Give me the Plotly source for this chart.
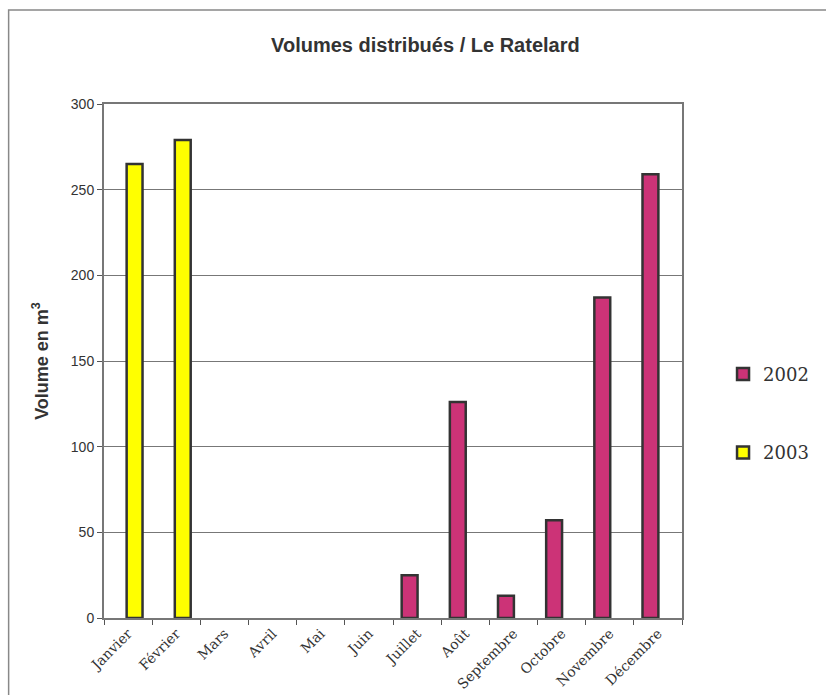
import plotly.graph_objects as go

months = ["Janvier", "Février", "Mars", "Avril", "Mai", "Juin", "Juillet",
          "Août", "Septembre", "Octobre", "Novembre", "Décembre"]
vol_2002 = [None, None, None, None, None, None, 25, 126, 13, 57, 187, 259]
vol_2003 = [265, 279, None, None, None, None, None, None, None, None, None, None]
y_ticks = [0, 50, 100, 150, 200, 250, 300]

fig = go.Figure()
fig.add_trace(go.Bar(x=months, y=vol_2002, name="2002", legendgroup="a",
                     marker=dict(color="#CC3377", line=dict(color="#333333", width=2.5)),
                     width=0.33, offset=-0.32))
fig.add_trace(go.Bar(x=months, y=vol_2003, name="2003", legendgroup="b",
                     marker=dict(color="#FFFF00", line=dict(color="#333333", width=2.5)),
                     width=0.33, offset=-0.03))

fig.update_layout(
    width=826, height=695,
    barmode="overlay",
    paper_bgcolor="white", plot_bgcolor="white",
    margin=dict(l=104, r=141, t=104, b=77),
    title=dict(text="<b>Volumes distribués / Le Ratelard</b>", x=0.515, xanchor="center",
               y=0.935, yanchor="middle",
               font=dict(family="Liberation Sans Narrow, Arial Narrow, Liberation Sans", size=20, color="#333333")),
    font=dict(family="Liberation Sans", color="#222222"),
    legend=dict(x=1.071, y=0.51, xanchor="left", yanchor="top", traceorder="grouped",
                tracegroupgap=52, font=dict(family="DejaVu Serif", size=18, color="#333333"),
                itemwidth=30, bgcolor="rgba(0,0,0,0)"),
    showlegend=True,
    xaxis=dict(tickangle=-45, tickson="boundaries", ticks="outside", ticklen=5,
               tickcolor="#555555", showline=True, linecolor="#777777", linewidth=2,
               tickfont=dict(family="DejaVu Serif", size=14, color="#333333"),
               mirror=True, showgrid=False, automargin=False),
    yaxis=dict(range=[0, 300], tickvals=y_ticks, ticks="outside", ticklen=5,
               tickcolor="#555555", showline=True, linecolor="#777777", linewidth=2,
               mirror=True, showgrid=True, gridcolor="#777777", gridwidth=1,
               tickfont=dict(family="Liberation Sans Narrow, Liberation Sans", size=14, color="#333333"),
               title=dict(text="<b>Volume en m<sup>3</sup></b>", standoff=18,
                          font=dict(family="Liberation Sans", size=18, color="#333333")),
               zeroline=False, automargin=False),
    shapes=[dict(type="rect", xref="paper", yref="paper",
                 x0=-0.165, x1=1.3, y0=-0.3, y1=1.183,
                 line=dict(color="#888888", width=1.5))],
)

fig.write_html("out.html")
